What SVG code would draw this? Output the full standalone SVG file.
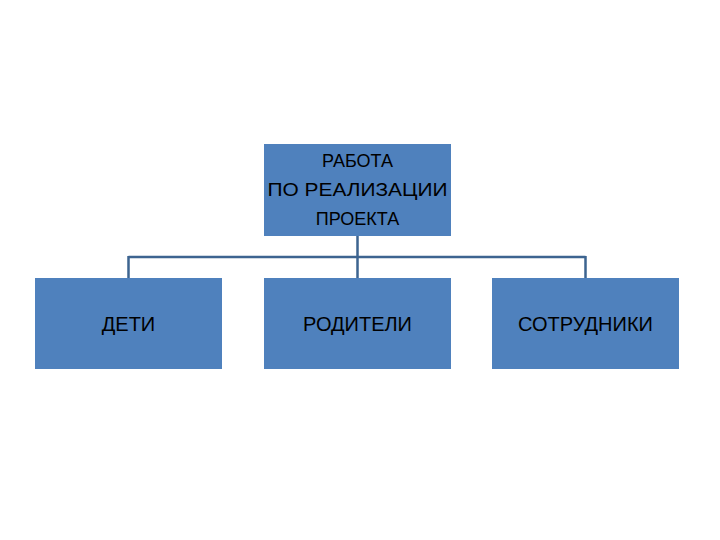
<svg xmlns="http://www.w3.org/2000/svg" width="720" height="540" viewBox="0 0 720 540">
<style>
.box{fill:#4f81bd}
.t{font-family:"Liberation Sans",Arial,sans-serif;fill:#000;text-anchor:middle}
.c{stroke:#3d6490;stroke-width:2.5;fill:none}
</style>
<rect width="720" height="540" fill="#fff"/>
<g id="connectors">
<path class="c" d="M357.5 236V278M128.5 257H585.5M128.5 256V278M585.5 256V278"/>
</g>
<g id="top"><rect class="box" x="264" y="144" width="187" height="92"/>
<text class="t" font-size="18"><tspan x="357.5" y="167">РАБОТА</tspan><tspan x="357.5" y="196" textLength="180" lengthAdjust="spacingAndGlyphs">ПО РЕАЛИЗАЦИИ</tspan><tspan x="357.5" y="225">ПРОЕКТА</tspan></text></g>
<g id="deti"><rect class="box" x="35" y="278" width="187" height="91"/><text class="t" font-size="20" x="128.5" y="331">ДЕТИ</text></g>
<g id="roditeli"><rect class="box" x="264" y="278" width="187" height="91"/><text class="t" font-size="20" x="357.5" y="331">РОДИТЕЛИ</text></g>
<g id="sotrudniki"><rect class="box" x="492" y="278" width="187" height="91"/><text class="t" font-size="20" x="585.5" y="331">СОТРУДНИКИ</text></g>
</svg>
